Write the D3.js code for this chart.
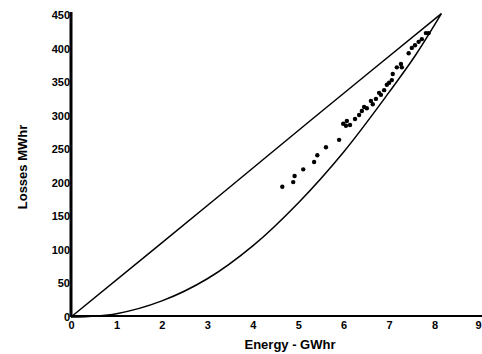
<!DOCTYPE html>
<html><head><meta charset="utf-8">
<script src="https://cdn.jsdelivr.net/npm/d3@7"></script>
<style>body{margin:0;background:#fff}svg{display:block}text{font-family:"Liberation Sans",Arial,sans-serif;font-weight:bold;fill:#000}</style>
</head><body>
<script>
const xTicks = [0,1,2,3,4,5,6,7,8,9];
const yTicks = [0,50,100,150,200,250,300,350,400,450];
// upper bound line
const upperE = [0, 3.27, 5.31, 8.15];
const upperL = [0, 181, 295, 452];
// lower bound curve
const lowerE = [0, 1, 2, 3, 4, 5, 6, 7, 7.58, 8.15];
const lowerL = [0, 5, 24, 57, 106, 170, 246, 335, 390, 452];
// measured points
const ptE = [4.65,4.89,4.92,5.11,5.35,5.42,5.61,5.90,5.99,6.05,6.07,6.14,6.25,6.34,6.40,6.45,6.51,6.60,6.64,6.71,6.78,6.82,6.89,6.95,7.00,7.06,7.08,7.17,7.26,7.28,7.43,7.50,7.57,7.65,7.72,7.81,7.87];
const ptL = [194,201,210,220,231,241,253,264,288,285,292,286,295,301,307,313,311,322,317,325,334,331,338,346,349,353,362,372,377,372,393,401,405,410,414,423,423];

const W=482,H=354;
const svg=d3.select("body").append("svg").attr("width",W).attr("height",H);
const x=d3.scaleLinear().domain([0,9]).range([71,480]);
const y=d3.scaleLinear().domain([0,450]).range([317,15]);

// axes
const xa=svg.append("g").attr("transform","translate(0,316)").call(d3.axisBottom(x).tickValues(xTicks).tickSize(0).tickPadding(5).tickFormat(d3.format("d")));
xa.select(".domain").attr("stroke","#000").attr("stroke-width",2).attr("d","M71,0H482");
xa.selectAll("text").attr("font-size",11).style("font-family","'Liberation Sans',Arial,sans-serif").style("font-weight","bold")
  .filter(d=>d===9).attr("dx",-2);
const ya=svg.append("g").attr("transform","translate(71,0)").call(d3.axisLeft(y).tickValues(yTicks).tickSize(0).tickPadding(1).tickFormat(d3.format("d")));
ya.select(".domain").attr("stroke","#000").attr("stroke-width",3).attr("d","M0,12V317");
ya.selectAll("text").attr("font-size",11).style("font-family","'Liberation Sans',Arial,sans-serif").style("font-weight","bold");

const line=d3.line().x(d=>x(d[0])).y(d=>y(d[1])).curve(d3.curveCatmullRom);
svg.append("path").datum(upperE.map((e,i)=>[e,upperL[i]])).attr("d",line).attr("fill","none").attr("stroke","#000").attr("stroke-width",1.5);
svg.append("path").datum(lowerE.map((e,i)=>[e,lowerL[i]])).attr("d",line).attr("fill","none").attr("stroke","#000").attr("stroke-width",1.5);

svg.append("g").selectAll("circle").data(ptE.map((e,i)=>[e,ptL[i]])).join("circle")
  .attr("cx",d=>x(d[0])).attr("cy",d=>y(d[1])).attr("r",2.2).attr("fill","#000");

svg.append("text").attr("x",290).attr("y",349).attr("text-anchor","middle").attr("font-size",13).text("Energy  - GWhr");
svg.append("text").attr("transform","translate(27,167) rotate(-90)").attr("text-anchor","middle").attr("font-size",13).text("Losses MWhr");
</script>
</body></html>
